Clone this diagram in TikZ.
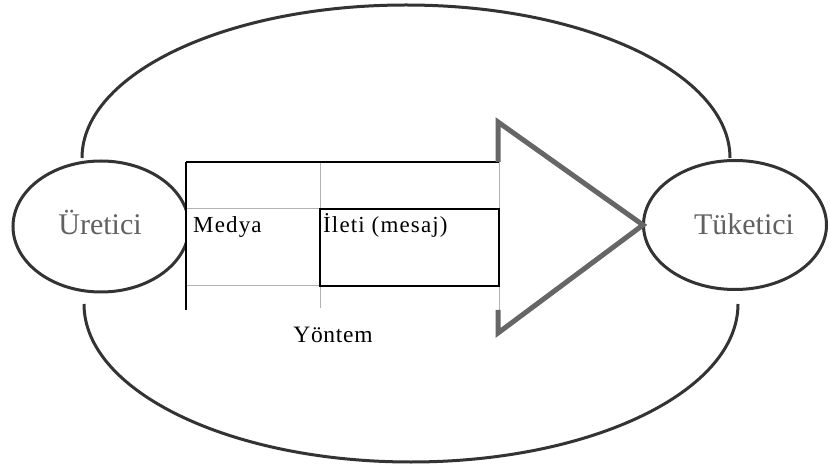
\documentclass[tikz,border=0pt]{standalone}
\usepackage{fontspec}
\setmainfont{Liberation Serif}
\usetikzlibrary{shapes.geometric}
\begin{document}
\begin{tikzpicture}[x=1pt,y=1pt,
  outline/.style={draw=black!80, line width=3pt},
  blob/.style={outline, ellipse, fill=white, inner sep=0pt},
  bigword/.style={text=black!62, font=\fontsize{30}{33}\selectfont, inner sep=0pt},
  cellword/.style={font=\fontsize{23}{26}\selectfont\addfontfeature{LetterSpace=5}, anchor=base west, inner sep=0pt},
  thinrule/.style={draw=black!30, line width=1pt},
  blackrule/.style={draw=black, line width=1.6pt},
  arrowline/.style={draw=black!60, line width=5pt, line join=miter, line cap=butt}]
\useasboundingbox[fill=white] (0,0) rectangle (830,469);
% outer loop
\draw[outline] (82,311) arc[start angle=180, end angle=0, x radius=324, y radius=153];
\draw[outline] (84,165) arc[start angle=180, end angle=360, x radius=327, y radius=158];
% end ellipses
\node[blob, minimum width=176pt, minimum height=131pt] (ur) at (101,242.5) {};
\node[blob, minimum width=183pt, minimum height=129pt] (tk) at (735,244) {};
\node[bigword, anchor=base] (urt) at (100,234) {Üretici};
\node[bigword, anchor=base] (tkt) at (744,234) {Tüketici};
% table
\coordinate (tl) at (186,307);
\coordinate (tr) at (499,307);
\coordinate (bl) at (186,159);
\coordinate (br) at (499,159);
\coordinate (ct) at (320,307);
\coordinate (cb) at (320,161);
\fill[white] (bl) rectangle (tr);
\draw[thinrule] (186,260) -- (320,260);
\draw[thinrule] (186,183) -- (320,183);
\draw[thinrule] (ct) -- (cb);
\draw[thinrule] (tr) -- (br);
\draw[blackrule] (tl) -- (tr);
\draw[blackrule] (tl) -- (bl);
\draw[blackrule] (320,260) rectangle (499,183);
% arrow
\coordinate (atop) at (498,347);
\coordinate (atip) at (643,244);
\coordinate (abot) at (498,136);
\draw[arrowline] (498,307) -- (atop) -- (atip) -- (abot) -- (498,159);
% labels
\node[cellword] (med) at (193,236) {Medya};
\node[cellword] (ilt) at (323,236) {İleti (mesaj)};
\node[cellword, font=\fontsize{23.5}{26}\selectfont\addfontfeature{LetterSpace=3}, anchor=base] (yon) at (333,127) {Yöntem};
\end{tikzpicture}
\end{document}
